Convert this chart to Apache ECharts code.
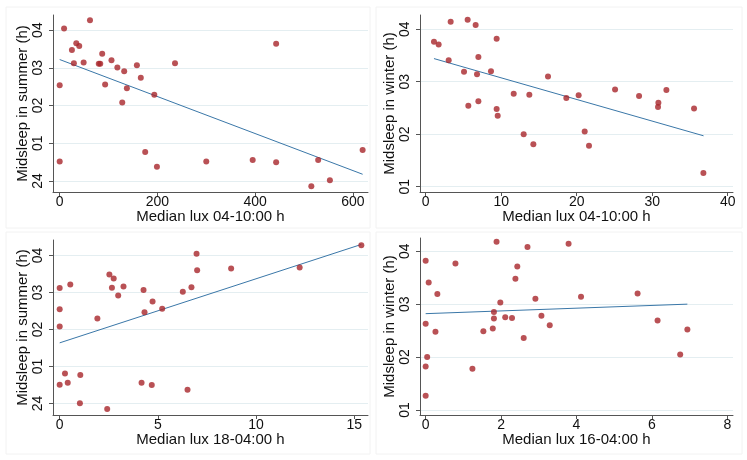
<!DOCTYPE html>
<html>
<head>
<meta charset="utf-8">
<script src="https://cdn.jsdelivr.net/npm/echarts@6/dist/echarts.min.js"></script>
<style>
  html, body { margin: 0; padding: 0; background: #fff; }
  #chart { width: 747px; height: 460px; }
</style>
</head>
<body>
<div id="chart"></div>
<script>
// midsleep as hours after midnight (0 = "24", 1 = "01", ...)
var summerMorning = [
  [0, 2.54], [0, 0.52], [9, 4.04], [62, 4.26], [25, 3.47], [29, 3.12], [34, 3.65], [40, 3.58],
  [49, 3.14], [80, 3.11], [83, 3.11], [87, 3.37], [93, 2.56], [106, 3.2], [118, 3.01], [128, 2.08],
  [132, 2.91], [137.5, 2.46], [158, 3.07], [166, 2.74], [175, 0.77], [193.6, 2.29], [199, 0.38],
  [236, 3.12], [300, 0.52], [395, 0.56], [443, 3.64], [443, 0.5], [515, -0.14], [529, 0.56],
  [553, 0.02], [620, 0.82]
];
var winterMorning = [
  [1.1, 3.76], [1.72, 3.71], [3.05, 3.41], [3.31, 4.14], [5.08, 3.19], [5.56, 4.18], [5.65, 2.54],
  [6.62, 4.08], [6.8, 3.14], [6.98, 3.47], [6.98, 2.63], [8.65, 3.2], [9.4, 3.82], [9.4, 2.48],
  [9.54, 2.35], [11.66, 2.77], [12.98, 2.0], [13.73, 2.75], [14.26, 1.81], [16.2, 3.1], [18.63, 2.69],
  [20.26, 2.74], [21.06, 2.05], [21.63, 1.78], [25.08, 2.85], [28.26, 2.73], [30.82, 2.6],
  [30.77, 2.52], [31.88, 2.84], [35.54, 2.49], [36.78, 1.26]
];
var summerEvening = [
  [0, 3.12], [0, 2.55], [0, 2.08], [0, 0.51], [0.27, 0.81], [0.41, 0.56], [0.54, 3.22], [1.05, 0.77],
  [1.03, 0.01], [1.92, 2.3], [2.42, -0.15], [2.53, 3.49], [2.66, 3.13], [2.75, 3.38], [2.98, 2.92],
  [3.25, 3.16], [4.17, 0.56], [4.27, 3.07], [4.32, 2.47], [4.73, 2.76], [4.69, 0.5], [5.22, 2.56],
  [6.27, 3.02], [6.51, 0.37], [6.71, 3.14], [6.97, 4.05], [7.0, 3.6], [8.73, 3.65], [12.22, 3.68],
  [15.36, 4.28]
];
var winterEvening = [
  [0, 3.82], [0, 2.63], [0, 1.82], [0, 1.27], [0.04, 2.0], [0.08, 3.41], [0.26, 2.48], [0.31, 3.19],
  [0.79, 3.77], [1.24, 1.78], [1.53, 2.49], [1.78, 2.54], [1.81, 2.85], [1.81, 2.73], [1.88, 4.18],
  [1.98, 3.03], [2.11, 2.75], [2.29, 2.74], [2.38, 3.48], [2.43, 3.71], [2.6, 2.36], [2.7, 4.08],
  [2.91, 3.1], [3.07, 2.78], [3.29, 2.6], [3.79, 4.14], [4.12, 3.14], [5.62, 3.2], [6.15, 2.69],
  [6.75, 2.05], [6.94, 2.52]
];
// fitted lines (end points)
var fitSummerMorning = [[0, 3.22], [620, 0.18]];
var fitWinterMorning = [[1.1, 3.44], [36.8, 1.97]];
var fitSummerEvening = [[0, 1.64], [15.36, 4.3]];
var fitWinterEvening = [[0, 2.82], [6.94, 3.0]];

var xTicks1 = [0, 200, 400, 600];
var xTicks2 = [0, 10, 20, 30, 40];
var xTicks3 = [0, 5, 10, 15];
var xTicks4 = [0, 2, 4, 6, 8];
var yTicksSummer = [0, 1, 2, 3, 4];
var yTicksWinter = [1, 2, 3, 4];

var xNames = ["Median lux 04-10:00 h", "Median lux 04-10:00 h", "Median lux 18-04:00 h", "Median lux 16-04:00 h"];
var yNames = ["Midsleep in summer (h)", "Midsleep in winter (h)", "Midsleep in summer (h)", "Midsleep in winter (h)"];

var font = "Liberation Sans";
var dotColor = "#a8252b";
var fitColor = "#3a77a8";

function hourLabel(v) {
  return v === 0 ? "24" : "0" + v;
}

function makeX(i, ticks, min, max) {
  return {
    type: "value", gridIndex: i, min: min, max: max,
    name: xNames[i], nameLocation: "middle", nameGap: 17, nameMoveOverlap: false,
    nameTextStyle: { fontFamily: font, fontSize: 15, color: "#111" },
    axisLine: { show: true, onZero: false, lineStyle: { color: "#555", width: 1 } },
    axisTick: { show: true, length: 4, customValues: ticks, lineStyle: { color: "#555" } },
    axisLabel: { customValues: ticks, margin: 3, fontFamily: font, fontSize: 14, color: "#111" },
    splitLine: { show: false }
  };
}

function makeY(i, ticks, min, max) {
  return {
    type: "value", gridIndex: i, min: min, max: max,
    name: yNames[i], nameLocation: "middle", nameGap: 23, nameMoveOverlap: false,
    nameTextStyle: { fontFamily: font, fontSize: 15, color: "#111" },
    axisLine: { show: true, onZero: false, lineStyle: { color: "#555", width: 1 } },
    axisTick: { show: true, length: 4, customValues: ticks, lineStyle: { color: "#555" } },
    axisLabel: { customValues: ticks, rotate: 90, margin: 8, fontFamily: font, fontSize: 14, color: "#111", formatter: hourLabel },
    splitLine: { show: true, lineStyle: { color: "#e4eef1", width: 1 } }
  };
}

function scatter(i, data) {
  return { type: "scatter", xAxisIndex: i, yAxisIndex: i, data: data, symbolSize: 6,
    itemStyle: { color: dotColor }, silent: true };
}

function fit(i, data) {
  return { type: "line", xAxisIndex: i, yAxisIndex: i, data: data, symbol: "none",
    lineStyle: { color: fitColor, width: 1 }, silent: true, z: 1 };
}

var chart = echarts.init(document.getElementById("chart"));
chart.setOption({
  backgroundColor: "#fff",
  animation: false,
  graphic: [
    { type: "rect", shape: { x: 6, y: 7, width: 364, height: 221 }, style: { fill: "none", stroke: "#f2f2f2" }, silent: true },
    { type: "rect", shape: { x: 376, y: 7, width: 366, height: 221 }, style: { fill: "none", stroke: "#f2f2f2" }, silent: true },
    { type: "rect", shape: { x: 6, y: 232, width: 364, height: 222 }, style: { fill: "none", stroke: "#f2f2f2" }, silent: true },
    { type: "rect", shape: { x: 376, y: 232, width: 366, height: 222 }, style: { fill: "none", stroke: "#f2f2f2" }, silent: true }
  ],
  grid: [
    { left: 53, top: 15, width: 315, height: 177 },
    { left: 420, top: 15, width: 313, height: 177 },
    { left: 53, top: 240, width: 315, height: 175 },
    { left: 420, top: 238, width: 313, height: 177 }
  ],
  xAxis: [
    makeX(0, xTicks1, -13.7, 631),
    makeX(1, xTicks2, -0.75, 40.7),
    makeX(2, xTicks3, -0.34, 15.7),
    makeX(3, xTicks4, -0.15, 8.15)
  ],
  yAxis: [
    makeY(0, yTicksSummer, -0.29, 4.4),
    makeY(1, yTicksWinter, 0.9, 4.27),
    makeY(2, yTicksSummer, -0.31, 4.42),
    makeY(3, yTicksWinter, 0.905, 4.25)
  ],
  series: [
    fit(0, fitSummerMorning), scatter(0, summerMorning),
    fit(1, fitWinterMorning), scatter(1, winterMorning),
    fit(2, fitSummerEvening), scatter(2, summerEvening),
    fit(3, fitWinterEvening), scatter(3, winterEvening)
  ]
});
</script>
</body>
</html>
